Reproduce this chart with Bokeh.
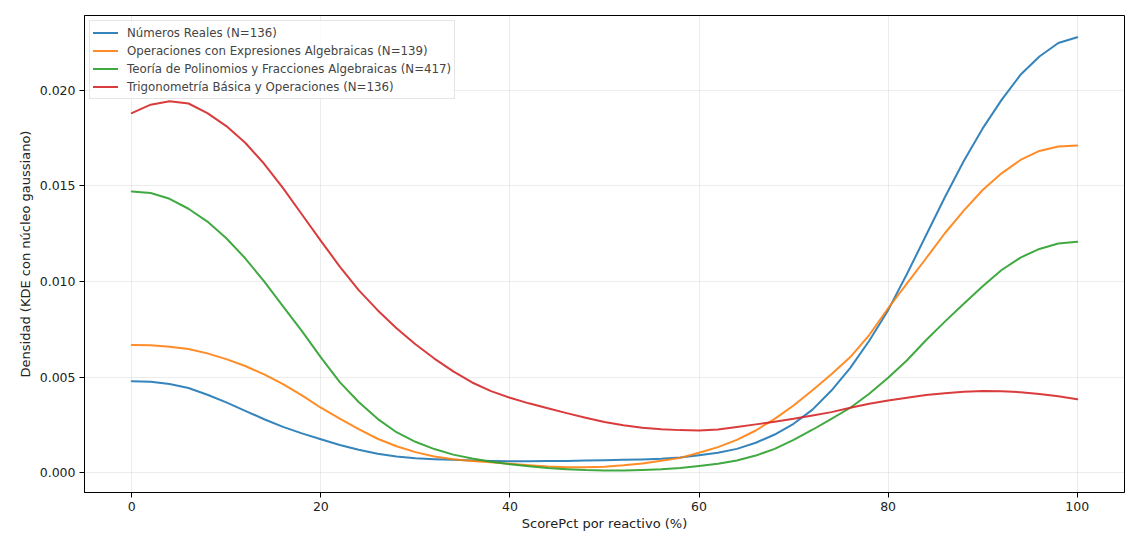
from bokeh.plotting import figure
from bokeh.models import Range1d, NumeralTickFormatter, FixedTicker, Legend, LegendItem
from bokeh.embed import file_html
from bokeh.resources import INLINE

x_vals = list(range(0, 101, 2))

numeros_reales = [0.00479, 0.00476, 0.00464, 0.00443, 0.00408, 0.00368, 0.00324, 0.00280,
                  0.00240, 0.00206, 0.00175, 0.00145, 0.00120, 0.00099, 0.00085, 0.00076,
                  0.00071, 0.00068, 0.00064, 0.00062, 0.00060, 0.00060, 0.00061, 0.00062,
                  0.00064, 0.00066, 0.00068, 0.00070, 0.00073, 0.00080, 0.00092, 0.00105,
                  0.00125, 0.00157, 0.00200, 0.00256, 0.00330, 0.00430, 0.00548, 0.00690,
                  0.00850, 0.01040, 0.01240, 0.01440, 0.01630, 0.01800, 0.01949, 0.02080,
                  0.02176, 0.02246, 0.02276]

operaciones_expr = [0.00668, 0.00666, 0.00659, 0.00647, 0.00624, 0.00594, 0.00558, 0.00514,
                    0.00463, 0.00405, 0.00340, 0.00283, 0.00228, 0.00178, 0.00139, 0.00108,
                    0.00085, 0.00071, 0.00062, 0.00055, 0.00047, 0.00040, 0.00033, 0.00029,
                    0.00029, 0.00032, 0.00039, 0.00049, 0.00063, 0.00078, 0.00105, 0.00134,
                    0.00172, 0.00221, 0.00282, 0.00352, 0.00431, 0.00515, 0.00605, 0.00720,
                    0.00860, 0.00990, 0.01120, 0.01252, 0.01370, 0.01478, 0.01565, 0.01635,
                    0.01682, 0.01705, 0.01710]

teoria_polinomios = [0.01470, 0.01462, 0.01432, 0.01380, 0.01313, 0.01226, 0.01121, 0.01000,
                     0.00870, 0.00740, 0.00603, 0.00474, 0.00370, 0.00282, 0.00212, 0.00162,
                     0.00124, 0.00095, 0.00075, 0.00058, 0.00045, 0.00034, 0.00025, 0.00019,
                     0.00014, 0.00012, 0.00012, 0.00014, 0.00018, 0.00025, 0.00036, 0.00047,
                     0.00064, 0.00090, 0.00125, 0.00172, 0.00225, 0.00282, 0.00340, 0.00413,
                     0.00497, 0.00588, 0.00693, 0.00790, 0.00884, 0.00975, 0.01060, 0.01125,
                     0.01170, 0.01198, 0.01207]

trigonometria = [0.01880, 0.01924, 0.01942, 0.01930, 0.01880, 0.01812, 0.01725, 0.01615,
                 0.01488, 0.01350, 0.01212, 0.01078, 0.00955, 0.00850, 0.00755, 0.00672,
                 0.00597, 0.00530, 0.00472, 0.00427, 0.00392, 0.00363, 0.00337, 0.00312,
                 0.00288, 0.00265, 0.00249, 0.00236, 0.00228, 0.00223, 0.00221, 0.00226,
                 0.00239, 0.00253, 0.00267, 0.00282, 0.00300, 0.00317, 0.00340, 0.00361,
                 0.00378, 0.00392, 0.00406, 0.00416, 0.00423, 0.00427, 0.00426, 0.00421,
                 0.00412, 0.00400, 0.00384]

series_labels = ["Números Reales (N=136)",
                 "Operaciones con Expresiones Algebraicas (N=139)",
                 "Teoría de Polinomios y Fracciones Algebraicas (N=417)",
                 "Trigonometría Básica y Operaciones (N=136)"]
series_values = [numeros_reales, operaciones_expr, teoria_polinomios, trigonometria]
series_colors = ["#1f77b4", "#ff7f0e", "#2ca02c", "#d62728"]

x_ticks = [0, 20, 40, 60, 80, 100]
y_ticks = [0.0, 0.005, 0.010, 0.015, 0.020]

FONT = "DejaVu Sans"

p = figure(frame_width=1040, frame_height=477, output_backend="svg", toolbar_location=None,
           x_range=Range1d(-5, 105), y_range=Range1d(-0.00103, 0.0239),
           min_border_left=84, min_border_top=15, min_border_right=4, min_border_bottom=10)

items = []
for lab, vals, col in zip(series_labels, series_values, series_colors):
    r = p.line(x_vals, vals, line_color=col, line_width=2, line_alpha=0.9,
               line_join="round", line_cap="round")
    items.append(LegendItem(label=lab, renderers=[r]))

legend = Legend(items=items, location="top_left", margin=5, padding=3, spacing=1,
                label_height=17, glyph_height=17, glyph_width=25, label_standoff=9,
                label_text_font=FONT, label_text_font_size="11.8px",
                border_line_color="#cccccc", border_line_width=1,
                background_fill_color="white", background_fill_alpha=0.85)
p.add_layout(legend)

p.xaxis.ticker = FixedTicker(ticks=x_ticks)
p.yaxis.ticker = FixedTicker(ticks=y_ticks)
p.yaxis.formatter = NumeralTickFormatter(format="0.000")

p.xaxis.axis_label = "ScorePct por reactivo (%)"
p.yaxis.axis_label = "Densidad (KDE con núcleo gaussiano)"

for ax in (p.xaxis[0], p.yaxis[0]):
    ax.axis_label_text_font = FONT
    ax.axis_label_text_font_size = "13px"
    ax.axis_label_text_font_style = "normal"
    ax.axis_label_text_color = "#222222"
    ax.major_label_text_font = FONT
    ax.major_label_text_font_size = "12.5px"
    ax.major_label_text_color = "#222222"
    ax.axis_line_color = "black"
    ax.major_tick_line_color = "black"
    ax.major_tick_out = 5
    ax.major_tick_in = 0
    ax.minor_tick_line_color = None
    ax.major_label_standoff = 4

p.xaxis.axis_label_standoff = 2
p.yaxis.axis_label_standoff = 4

p.xgrid.ticker = FixedTicker(ticks=x_ticks)
p.ygrid.ticker = FixedTicker(ticks=y_ticks)
p.grid.grid_line_color = "#b0b0b0"
p.grid.grid_line_alpha = 0.3
p.grid.grid_line_width = 0.8

p.outline_line_color = "black"
p.outline_line_alpha = 1.0
p.outline_line_width = 1
p.background_fill_color = "white"
p.border_fill_color = "white"

open("out.html", "w").write(file_html(p, INLINE))
